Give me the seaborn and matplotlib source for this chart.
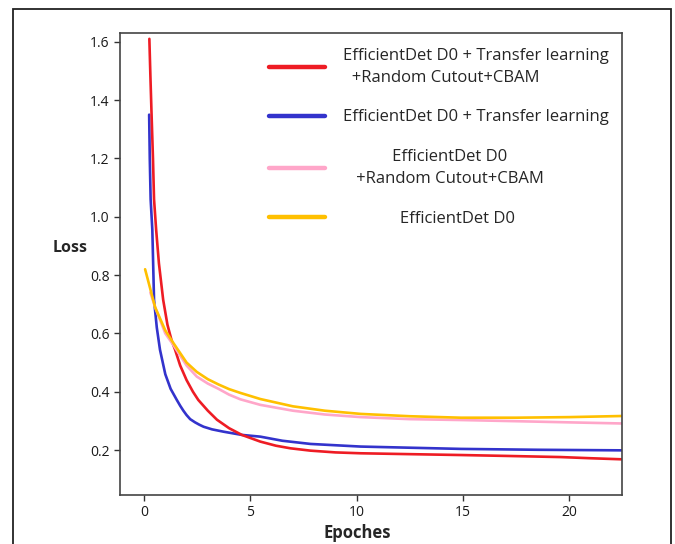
import pandas as pd
import seaborn as sns
import matplotlib.pyplot as plt
from matplotlib.lines import Line2D
from matplotlib.patches import Rectangle

# values
red_epoch = [0.25, 0.30, 0.35, 0.42, 0.47, 0.57, 0.70, 0.90, 1.10, 1.30, 1.46, 1.70, 2.00, 2.30,
             2.55, 3.00, 3.43, 4.00, 4.60, 5.47, 6.20, 6.89, 7.83, 9.00, 10.19, 12.50, 14.90,
             17.00, 19.60, 21.00, 22.60]
red_loss = [1.61, 1.48, 1.36, 1.20, 1.06, 0.955, 0.84, 0.715, 0.63, 0.575, 0.544, 0.49, 0.44, 0.40,
            0.372, 0.335, 0.304, 0.275, 0.252, 0.229, 0.215, 0.206, 0.198, 0.192, 0.189, 0.186, 0.183,
            0.180, 0.176, 0.172, 0.168]

blue_epoch = [0.24, 0.27, 0.31, 0.39, 0.47, 0.60, 0.75, 1.00, 1.25, 1.54, 1.70, 1.85, 2.00, 2.17,
              2.40, 2.60, 2.80, 3.20, 3.74, 4.60, 5.47, 6.50, 7.83, 10.19, 14.90, 18.50, 22.60]
blue_loss = [1.35, 1.20, 1.06, 0.955, 0.715, 0.62, 0.544, 0.46, 0.41, 0.372, 0.352, 0.335, 0.320, 0.306,
             0.295, 0.287, 0.280, 0.271, 0.263, 0.252, 0.246, 0.232, 0.221, 0.212, 0.204, 0.201, 0.199]

pink_epoch = [0.30, 0.52, 1.00, 1.38, 2.00, 2.48, 3.00, 3.50, 4.00, 4.53, 5.47, 7.00, 8.50, 10.19,
              12.50, 14.90, 17.50, 20.00, 22.60]
pink_loss = [0.74, 0.69, 0.60, 0.56, 0.49, 0.452, 0.428, 0.41, 0.39, 0.374, 0.355, 0.335, 0.322, 0.313,
             0.306, 0.303, 0.299, 0.295, 0.291]

yellow_epoch = [0.05, 0.52, 1.00, 1.38, 2.00, 2.48, 3.00, 3.50, 4.00, 4.53, 5.47, 7.00, 8.50, 10.19,
                12.50, 14.90, 17.50, 20.00, 22.60]
yellow_loss = [0.82, 0.69, 0.61, 0.567, 0.50, 0.468, 0.443, 0.425, 0.409, 0.396, 0.375, 0.350, 0.335,
               0.324, 0.316, 0.311, 0.311, 0.313, 0.317]

models = ['EfficientDet D0 + Transfer learning\n +Random Cutout+CBAM',
          'EfficientDet D0 + Transfer learning',
          'EfficientDet D0\n+Random Cutout+CBAM',
          'EfficientDet D0']
colors = ['#ee1c24', '#3333cc', '#ffa6c9', '#ffc000']

df = pd.concat([
    pd.DataFrame({'epoch': red_epoch, 'loss': red_loss, 'model': models[0]}),
    pd.DataFrame({'epoch': blue_epoch, 'loss': blue_loss, 'model': models[1]}),
    pd.DataFrame({'epoch': pink_epoch, 'loss': pink_loss, 'model': models[2]}),
    pd.DataFrame({'epoch': yellow_epoch, 'loss': yellow_loss, 'model': models[3]}),
])

sns.set_style('ticks')
plt.rcParams['font.family'] = ['Open Sans', 'DejaVu Sans']

fig = plt.figure(figsize=(6.75, 5.44), dpi=100)
ax = fig.add_axes([0.1778, 0.0901, 0.7437, 0.8487])

draw_order = [models[1], models[0], models[2], models[3]]
sns.lineplot(data=df, x='epoch', y='loss', hue='model', hue_order=draw_order,
             palette=dict(zip(models, colors)), estimator=None, sort=False,
             linewidth=1.9, legend=False, ax=ax)

ax.set_xlim(-1.13, 22.48)
ax.set_ylim(0.046, 1.629)
ax.set_xticks([0, 5, 10, 15, 20])
ax.set_yticks([0.2, 0.4, 0.6, 0.8, 1.0, 1.2, 1.4, 1.6])
ax.tick_params(labelsize=10, length=4, width=1, colors='#333333', labelcolor='#1a1a1a')
for s in ax.spines.values():
    s.set_color('#444444')
    s.set_linewidth(1.2)

ax.set_xlabel('Epoches', fontsize=12, fontweight='bold')
ax.xaxis.label.set_va('center')
ax.xaxis.set_label_coords(0.472, -0.082)
ax.set_ylabel('Loss', fontsize=11.5, fontweight='bold', rotation=0, va='center', ha='center')
ax.yaxis.set_label_coords(-0.099, 0.535)

handles = [Line2D([], [], color=c, lw=3.2) for c in colors]
labels = [models[0].replace('\n ', '\n  '), models[1],
          '   ' + models[2].replace('\n', '\n   '), ' ' * 13 + models[3]]
leg = ax.legend(handles, labels, loc='upper left', bbox_to_anchor=(0.297, 0.9692),
                frameon=False, fontsize=12, handlelength=3.35, handletextpad=1.08,
                labelspacing=1.43, borderpad=0, borderaxespad=0)
for t in leg.get_texts():
    t.set_linespacing(1.5)
leg.get_texts()[2].set_multialignment('center')

fig.patches.append(Rectangle((13 / 675, -0.01), (670.7 - 13) / 675, 1.0 - 9 / 544 + 0.01,
                             transform=fig.transFigure, fill=False, ec='#222222', lw=1.3))

fig.savefig('out.png', dpi=100)
